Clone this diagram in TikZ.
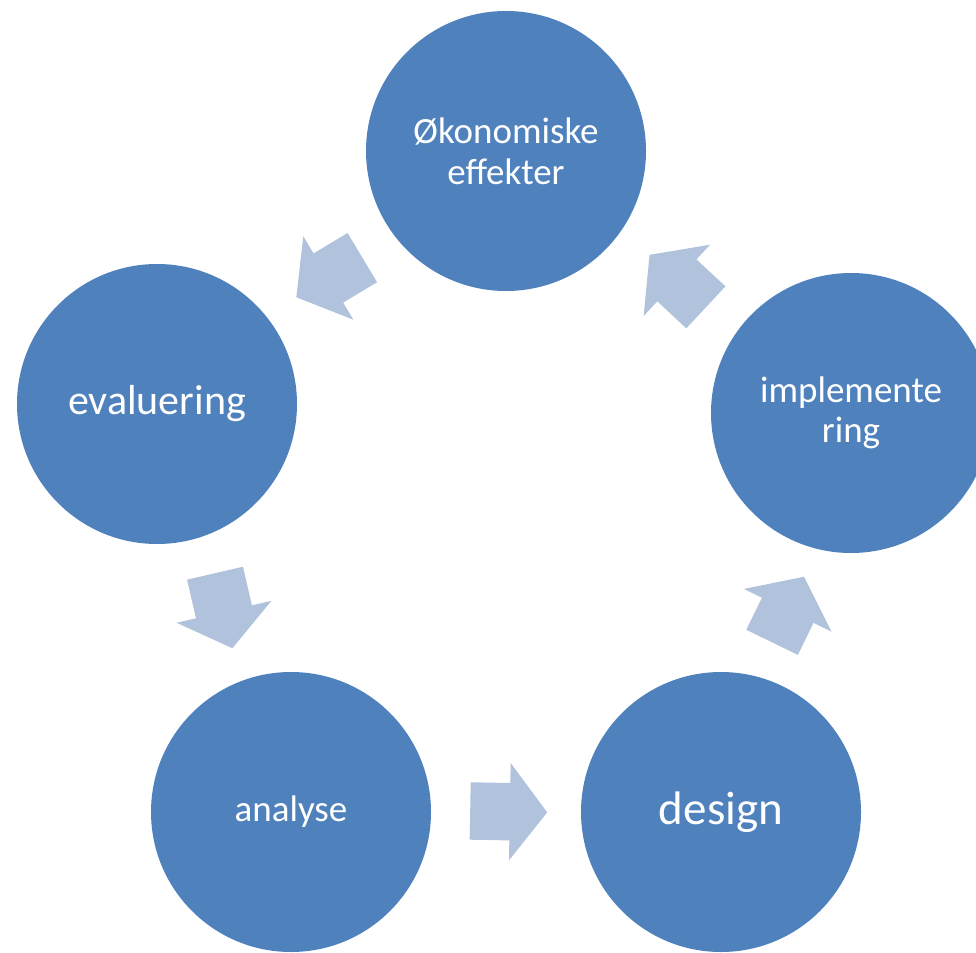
\documentclass[tikz,border=0pt]{standalone}
\usepackage{fontspec}
\setmainfont{Carlito}
\usepackage{tikz}
\usetikzlibrary{shapes.arrows}
\definecolor{circblue}{HTML}{4F81BD}
\definecolor{arrblue}{HTML}{B1C2DD}
\tikzset{
  nd_circ/.style = {circle, fill=circblue, draw=none, minimum size=280pt,
    inner sep=0pt, align=center, text=white},% sirkel
  arr_blk/.style = {single arrow, fill=arrblue, draw=none, anchor=tail,
    minimum height=77pt, minimum width=0pt, inner xsep=0pt, inner ysep=28.5pt,
    single arrow head extend=20pt, single arrow tip angle=105}% blokkpil
}
\begin{document}
\begin{tikzpicture}[x=1pt,y=-1pt]
\useasboundingbox (0,0) rectangle (976,952);
\clip (0,0) rectangle (976,952);
% sirkler
\node [nd_circ, font=\fontsize{37}{41}\selectfont] (okon) at (506,151) {Økonomiske\\effekter};
\node [nd_circ, font=\fontsize{42}{46}\selectfont] (eval) at (157,404) {evaluering};
\node [nd_circ, font=\fontsize{37}{40}\selectfont] (anal) at (291,812) {analyse};
\node [nd_circ, font=\fontsize{47}{52}\selectfont] (design) at (721,812) {design};
\node [nd_circ, font=\fontsize{37}{40}\selectfont] (impl) at (851,413) {implemente\\ring};
% piler
\node [arr_blk, rotate=211] (a_oe) at (362.5,257.5) {};
\node [arr_blk, rotate=283] (a_ea) at (215,573) {};
\node [arr_blk, rotate=-1] (a_ad) at (470,811) {};
\node [arr_blk, rotate=64, minimum height=73pt] (a_di) at (772,642.5) {};
\node [arr_blk, rotate=137] (a_io) at (706,307.5) {};
\end{tikzpicture}
\end{document}
